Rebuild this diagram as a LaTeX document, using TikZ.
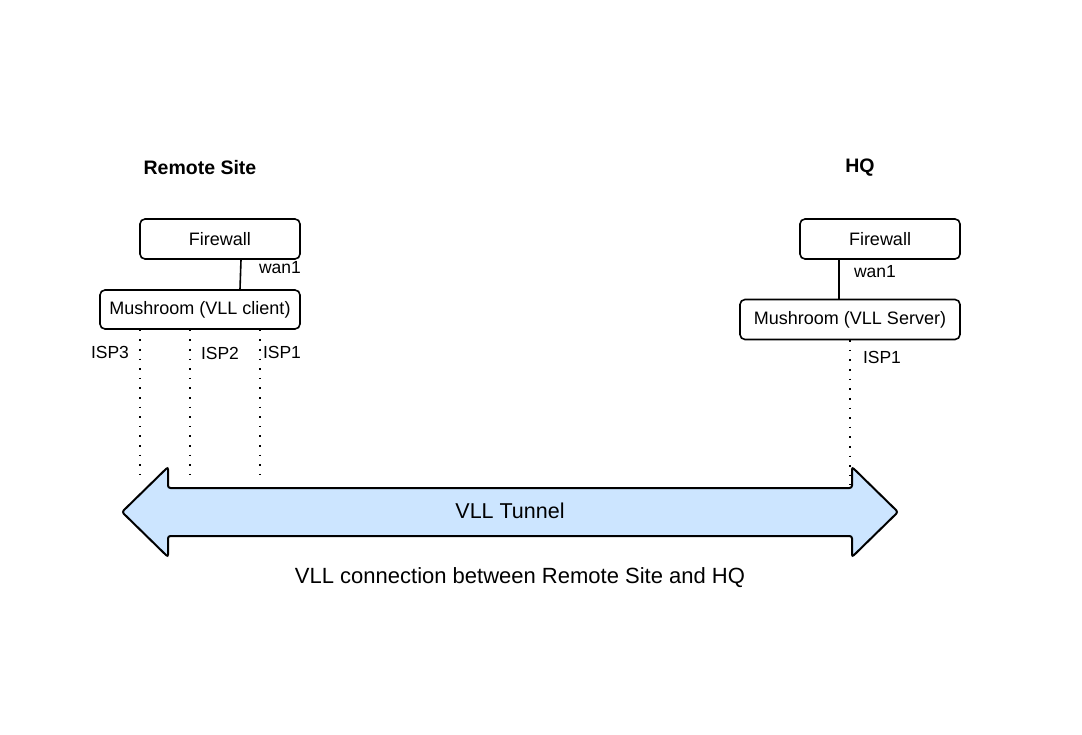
\documentclass[tikz,border=0pt]{standalone}
\usepackage{fontspec}
\setmainfont{Liberation Sans}
\begin{document}
\begin{tikzpicture}[x=1pt,y=-1pt,
  box/.style={draw,line width=1.6pt,rounded corners=5pt,inner sep=0pt,font=\fontsize{18}{20}\selectfont},
  lbl/.style={font=\fontsize{17.5}{20}\selectfont,inner sep=0pt},
  title/.style={font=\bfseries\fontsize{19.5}{22}\selectfont,inner sep=0pt},
  dotline/.style={line width=1.6pt,dash pattern=on 1.6pt off 8pt},
  link/.style={line width=1.6pt}]
\fill[white] (0,0) rectangle (1082,735);
\useasboundingbox (0,0) rectangle (1082,735);

\node[title] (rs) at (200,168) {Remote Site};
\node[title] (hq) at (860,168) {HQ};

\node[box,minimum width=160pt,minimum height=40pt] (fw1) at (220,239) {Firewall};
\node[box,minimum width=200pt,minimum height=39pt] (mc) at (200,309.5) {Mushroom (VLL client)};
\node[box,minimum width=160pt,minimum height=40pt] (fw2) at (880,239) {Firewall};
\node[box,minimum width=220pt,minimum height=40pt] (ms) at (850,319.5) {Mushroom (VLL Server)};

\draw[link] (fw1.south -| 241,0) -- (mc.north -| 240,0);
\draw[link] (fw2.south -| 839,0) -- (ms.north -| 839,0);

\node[lbl] (w1) at (280,268) {wan1};
\node[lbl] (w2) at (875,272) {wan1};

% tunnel arrow
\draw[line width=2pt,fill={rgb,255:red,204;green,229;blue,255},rounded corners=2.5pt]
  (122,512) -- (168,467) -- (168,488) -- (852,488) -- (852,467) -- (898,512)
  -- (852,557) -- (852,536) -- (168,536) -- (168,557) -- cycle;
\node[inner sep=0pt,font=\fontsize{21.5}{24}\selectfont] (vt) at (510,511) {VLL Tunnel};

\coordinate (e1) at (140,482);
\coordinate (e2) at (190,483);
\coordinate (e3) at (260,483);
\coordinate (e4) at (850,485);
\draw[dotline] (mc.south -| e1) -- (e1);
\draw[dotline] (mc.south -| e2) -- (e2);
\draw[dotline] (mc.south -| e3) -- (e3);
\draw[dotline] (ms.south -| e4) -- (e4);

\node[lbl] (i3) at (110,352) {ISP3};
\node[lbl] (i2) at (220,353) {ISP2};
\node[lbl] (i1) at (282,352) {ISP1};
\node[lbl] (i4) at (882,357) {ISP1};

\node[inner sep=0pt,font=\fontsize{22}{25}\selectfont] (cap) at (520,578) {VLL connection between Remote Site and HQ};
\end{tikzpicture}
\end{document}
